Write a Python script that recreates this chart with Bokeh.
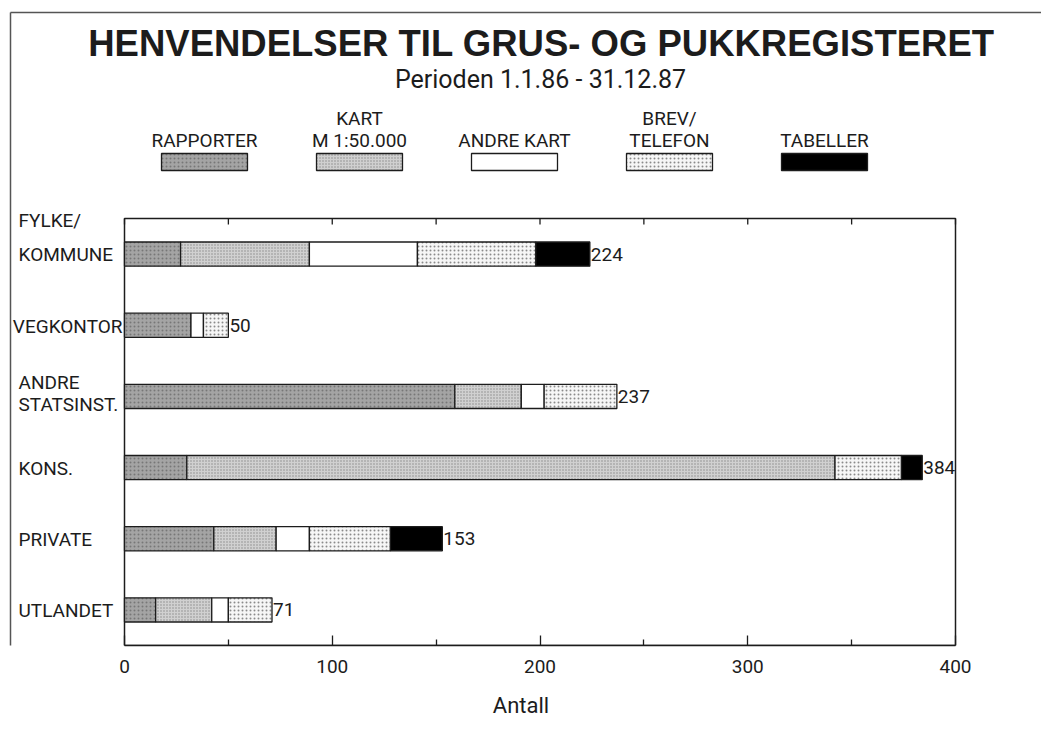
from bokeh.plotting import figure
from bokeh.models import Range1d, LinearAxis, FixedTicker, ColumnDataSource
from bokeh.core.properties import value
from bokeh.embed import file_html
from bokeh.resources import INLINE

# ---------------- data ----------------
categories = ["FYLKE/\nKOMMUNE", "VEGKONTOR", "ANDRE\nSTATSINST.", "KONS.", "PRIVATE", "UTLANDET"]
series = ["RAPPORTER", "KART\nM 1:50.000", "ANDRE KART", "BREV/\nTELEFON", "TABELLER"]
rapporter = [27, 32, 159, 30, 43, 15]
kart = [62, 0, 32, 312, 30, 27]
andre_kart = [52, 6, 11, 0, 16, 8]
brev_telefon = [57, 12, 35, 32, 39, 21]
tabeller = [26, 0, 0, 10, 25, 0]
x_ticks = [0, 100, 200, 300, 400]
x_minor_ticks = [50, 150, 250, 350]
title_text = "HENVENDELSER TIL GRUS- OG PUKKREGISTERET"
subtitle_text = "Perioden 1.1.86 - 31.12.87"
axis_title = "Antall"

# ---------------- style / layout ----------------
FONT = "Roboto"
TFONT = "Liberation Sans"
INK = "#1c1c1c"
styles = [
    dict(fill_color="#a4a4a4", hatch_pattern="dot", hatch_color="#777777", hatch_scale=4, hatch_weight=1),
    dict(fill_color="#d0d0d0", hatch_pattern="dot", hatch_color="#888888", hatch_scale=3, hatch_weight=1),
    dict(fill_color="#ffffff"),
    dict(fill_color="#f6f6f6", hatch_pattern="dot", hatch_color="#8a8a8a", hatch_scale=4, hatch_weight=1),
    dict(fill_color="#000000"),
]
W, H = 1041, 734
FRAME_L, FRAME_R, BOX_T, BOX_B = 124, 955, 218, 645

values = [rapporter, kart, andre_kart, brev_telefon, tabeller]
n = len(categories)
idx = list(range(n))
totals = [sum(v[i] for v in values) for i in idx]

SX = (FRAME_R - FRAME_L) / (x_ticks[-1] - x_ticks[0])
SY = (BOX_B - BOX_T) / n


def dx(px):
    return x_ticks[0] + (px - FRAME_L) / SX


def dy(py):
    return -0.5 + (py - BOX_T) / SY


p = figure(width=W, height=H, output_backend="svg", toolbar_location=None,
           x_range=Range1d(dx(0), dx(W)), y_range=Range1d(dy(BOX_B), dy(0)),
           x_axis_location=None, y_axis_location=None,
           min_border_left=0, min_border_right=0, min_border_top=0,
           min_border_bottom=H - BOX_B)
p.grid.visible = False
p.outline_line_color = None
p.background_fill_color = "white"
p.border_fill_color = "white"

# bottom axis
xb = LinearAxis(ticker=FixedTicker(ticks=x_ticks, minor_ticks=x_minor_ticks),
                bounds=(x_ticks[0], x_ticks[-1]))
xb.axis_line_color = INK
xb.axis_line_width = 1.5
xb.major_tick_in = 10
xb.major_tick_out = 0
xb.minor_tick_in = 6
xb.minor_tick_out = 0
xb.major_tick_line_color = INK
xb.minor_tick_line_color = INK
xb.major_tick_line_width = 1.3
xb.minor_tick_line_width = 1.3
xb.major_label_standoff = 14
xb.major_label_text_font = FONT
xb.major_label_text_font_size = "19px"
xb.major_label_text_color = INK
xb.axis_label = axis_title
xb.axis_label_text_font = FONT
xb.axis_label_text_font_size = "22px"
xb.axis_label_text_font_style = "normal"
xb.axis_label_text_color = INK
xb.axis_label_standoff = 17
p.add_layout(xb, "below")

# chart box
p.quad(left=[x_ticks[0]], right=[x_ticks[-1]], top=[-0.5], bottom=[n - 0.5],
       fill_color=None, line_color=INK, line_width=1.5)

# top ticks (pointing into the box)
top_ticks = sorted(x_ticks + x_minor_ticks)
p.segment(x0=top_ticks, x1=top_ticks, y0=[-0.5] * len(top_ticks),
          y1=[-0.5 + 6 / SY] * len(top_ticks), line_color=INK, line_width=1.3)

# stacked bars
left = [0] * n
for s, vals in enumerate(values):
    right = [l + v for l, v in zip(left, vals)]
    keep = [i for i in idx if vals[i] > 0]
    src = ColumnDataSource(dict(y=[idx[i] for i in keep],
                                left=[left[i] for i in keep],
                                right=[right[i] for i in keep]))
    p.hbar(y="y", left="left", right="right", height=0.34, source=src,
           line_color=INK, line_width=1.3, **styles[s])
    left = right

# totals at bar ends
p.text(x=totals, y=idx, text=[str(t) for t in totals], x_offset=1,
       text_baseline="middle", text_align="left", text_font=value(FONT),
       text_font_size="19px", text_color=INK)

# category labels (left of the box); offsets of each line's centre from the bar centre, px
line_offsets = {0: [-34, 0], 2: [-14, 8]}
for i, cat in enumerate(categories):
    lines = cat.split("\n")
    offs = line_offsets.get(i, [1])
    for line, off in zip(lines, offs):
        if line == "VEGKONTOR":
            xp, al = FRAME_L - 2, "right"
        else:
            xp, al = 18, "left"
        p.text(x=[dx(xp)], y=[i + off / SY], text=[line], text_align=al,
               text_baseline="middle", text_font=value(FONT),
               text_font_size="19px", text_color=INK)

# title and subtitle
p.text(x=[dx(541)], y=[dy(43)], text=[title_text], text_align="center",
       text_baseline="middle", text_font=value(TFONT), text_font_style="bold",
       text_font_size="36.5px", text_color=INK)
p.text(x=[dx(540)], y=[dy(78.5)], text=[subtitle_text], text_align="center",
       text_baseline="middle", text_font=value(FONT),
       text_font_size="25px", text_color=INK)

# legend
for s, name in enumerate(series):
    cx = 204 + 155 * s
    lines = name.split("\n")
    centres = [140 - 22 * (len(lines) - 1 - k) for k in range(len(lines))]
    for line, c in zip(lines, centres):
        p.text(x=[dx(cx)], y=[dy(c)], text=[line], text_align="center",
               text_baseline="middle", text_font=value(FONT),
               text_font_size="19px", text_color=INK)
    p.quad(left=[dx(cx - 43)], right=[dx(cx + 43)], top=[dy(153)], bottom=[dy(170)],
           line_color=INK, line_width=1.3, **styles[s])

# scan frame (left and top edges)
p.segment(x0=[dx(10), dx(10)], x1=[dx(10), dx(W + 5)], y0=[dy(12), dy(12)],
          y1=[dy(BOX_B + 5), dy(12)], line_color="#555555", line_width=1.5)

open("out.html", "w").write(file_html(p, INLINE))
